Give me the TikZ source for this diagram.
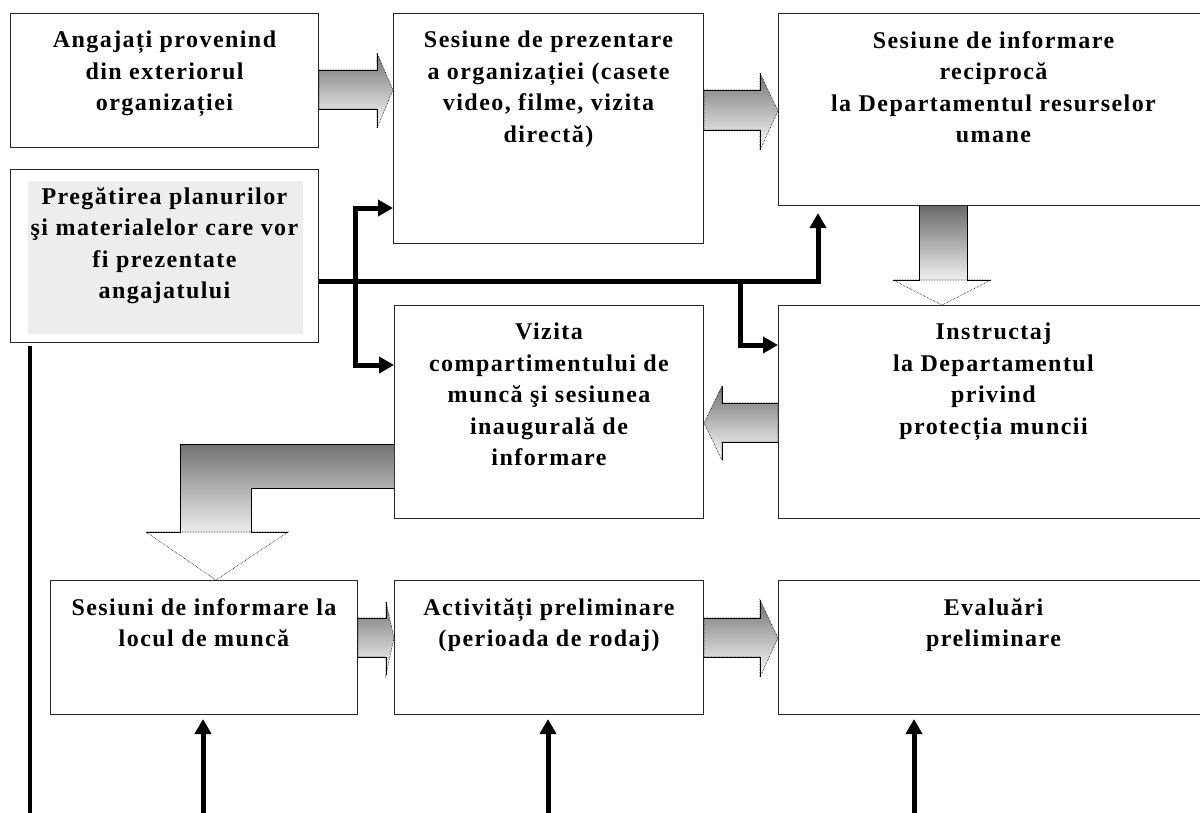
\documentclass[tikz,border=0pt]{standalone}
\usepackage{fontspec}
\setmainfont{Liberation Serif}[LetterSpace=6]
\usetikzlibrary{arrows.meta}
\tikzstyle{stage} = [rectangle, draw = black!85, line width = 1pt, anchor = north west, inner sep = 0pt, fill = white]
\tikzstyle{caption} = [anchor = north, align = center, inner sep = 0pt, yshift = -18pt, font = \fontsize{24}{31.5}\selectfont\bfseries]
\tikzstyle{panel} = [path picture = {\fill[black!7] ([shift={(17pt,-11pt)}]path picture bounding box.north west) rectangle ([shift={(-16pt,9pt)}]path picture bounding box.south east);}]
\tikzstyle{flow} = [draw = black, densely dotted, line width = 0.6pt, top color = black!55, bottom color = white]
\tikzstyle{shaft} = [top color = black!58, bottom color = black!6]
\tikzstyle{rim} = [draw = black, line width = 0.8pt]
\tikzstyle{tipline} = [draw = black, densely dotted, line width = 0.6pt, fill = white]
\tikzstyle{feed} = [line width = 5pt, -{Triangle[length=15pt,width=16pt]}]
\tikzstyle{wire} = [line width = 4.5pt]

\begin{document}
\begin{tikzpicture}[x = 1pt, y = -1pt]
\useasboundingbox (0,0) rectangle (1200,812);
\fill[white] (0,0) rectangle (1200,812);
\clip (0,0) rectangle (1200,812);

\node(angajati)   [stage, minimum width = 308pt, minimum height = 134pt, label = {[caption]north:{Angajați provenind\\din exteriorul\\organizației}}] at (10,13) {};
\node(sesiune)    [stage, minimum width = 310pt, minimum height = 230pt, label = {[caption]north:{Sesiune de prezentare\\a organizației (casete\\video, filme, vizita\\directă)}}] at (393,13) {};
\node(informare)  [stage, minimum width = 430pt, minimum height = 192pt, label = {[caption]north:{Sesiune de informare\\reciprocă\\la Departamentul resurselor\\umane}}] at (778,13) {};
\node(pregatire)  [stage, panel, minimum width = 308pt, minimum height = 173pt, label = {[caption]north:{Pregătirea planurilor\\şi materialelor care vor\\fi prezentate\\angajatului}}] at (10,169) {};
\node(vizita)     [stage, minimum width = 309pt, minimum height = 213pt, label = {[caption]north:{Vizita\\compartimentului de\\muncă şi sesiunea\\inaugurală de\\informare}}] at (394,305) {};
\node(instructaj) [stage, minimum width = 430pt, minimum height = 213pt, label = {[caption]north:{Instructaj\\la Departamentul\\privind\\protecția muncii}}] at (778,305) {};
\node(sesiuni)    [stage, minimum width = 307pt, minimum height = 134pt, label = {[caption]north:{Sesiuni de informare la\\locul de muncă}}] at (50,580) {};
\node(activitati) [stage, minimum width = 309pt, minimum height = 134pt, label = {[caption]north:{Activități preliminare\\(perioada de rodaj)}}] at (394,580) {};
\node(evaluari)   [stage, minimum width = 430pt, minimum height = 134pt, label = {[caption]north:{Evaluări\\preliminare}}] at (778,580) {};

% block arrows
\shade[flow] (angajati.east |- 0,70) -- (377,70) -- (377,53) -- (sesiune.west |- 0,90) -- (377,128) -- (377,109) -- (angajati.east |- 0,109) -- cycle;
\draw[rim] (angajati.east |- 0,70) -- (377,70) -- (377,53) (377,128) -- (377,109) -- (angajati.east |- 0,109);

\shade[flow] (sesiune.east |- 0,90) -- (760,90) -- (760,73) -- (informare.west |- 0,111) -- (760,150) -- (760,130) -- (sesiune.east |- 0,130) -- cycle;
\draw[rim] (sesiune.east |- 0,90) -- (760,90) -- (760,73) (760,150) -- (760,130) -- (sesiune.east |- 0,130);

\shade[shaft] (919,0 |- informare.south) rectangle (967,280);
\draw[tipline] (893,280) -- (942,0 |- instructaj.north) -- (991,280) -- cycle;
\draw[rim] (919,0 |- informare.south) -- (919,280) -- (893,280) (967,0 |- informare.south) -- (967,280) -- (991,280);

\shade[flow] (instructaj.west |- 0,403) -- (722,403) -- (722,386) -- (vizita.east |- 0,423) -- (722,460) -- (722,442) -- (instructaj.west |- 0,442) -- cycle;
\draw[rim] (instructaj.west |- 0,403) -- (722,403) -- (722,386) (722,460) -- (722,442) -- (instructaj.west |- 0,442);

\shade[shaft, top color = black!55, bottom color = black!7] (vizita.west |- 0,444) -- (180,444) -- (180,532) -- (251,532) -- (251,488) -- (vizita.west |- 0,488) -- cycle;
\draw[tipline] (146,532) -- (216,0 |- sesiuni.north) -- (288,532) -- cycle;
\draw[rim] (vizita.west |- 0,444) -- (180,444) -- (180,532) -- (146,532) (288,532) -- (251,532) -- (251,488) -- (vizita.west |- 0,488);

\shade[flow] (sesiuni.east |- 0,618) -- (386,618) -- (386,602) -- (activitati.west |- 0,638) -- (386,675) -- (386,657) -- (sesiuni.east |- 0,657) -- cycle;
\draw[rim] (sesiuni.east |- 0,618) -- (386,618) -- (386,602) (386,675) -- (386,657) -- (sesiuni.east |- 0,657);

\shade[flow] (activitati.east |- 0,618) -- (760,618) -- (760,600) -- (evaluari.west |- 0,638) -- (760,677) -- (760,657) -- (activitati.east |- 0,657) -- cycle;
\draw[rim] (activitati.east |- 0,618) -- (760,618) -- (760,600) (760,677) -- (760,657) -- (activitati.east |- 0,657);

% thick connectors
\coordinate (split1) at (355,281);
\coordinate (split2) at (740,281);
\draw [feed, shorten >= 7pt] (pregatire.east |- 0,281) -| (818,0 |- informare.south);
\draw [feed] (split1) |- (sesiune.west |- 0,208);
\draw [feed] (split1) |- (vizita.west |- 0,365);
\draw [feed] (split2) |- (instructaj.west |- 0,345);

\draw [wire] (pregatire.south west) ++(20,3) -- ++(0,490);
\foreach \stagebox/\xpos in {sesiuni/203, activitati/548, evaluari/914}
  \draw [feed, shorten >= 4pt] (\xpos,830) -- (\xpos,0 |- \stagebox.south);

\end{tikzpicture}
\end{document}
